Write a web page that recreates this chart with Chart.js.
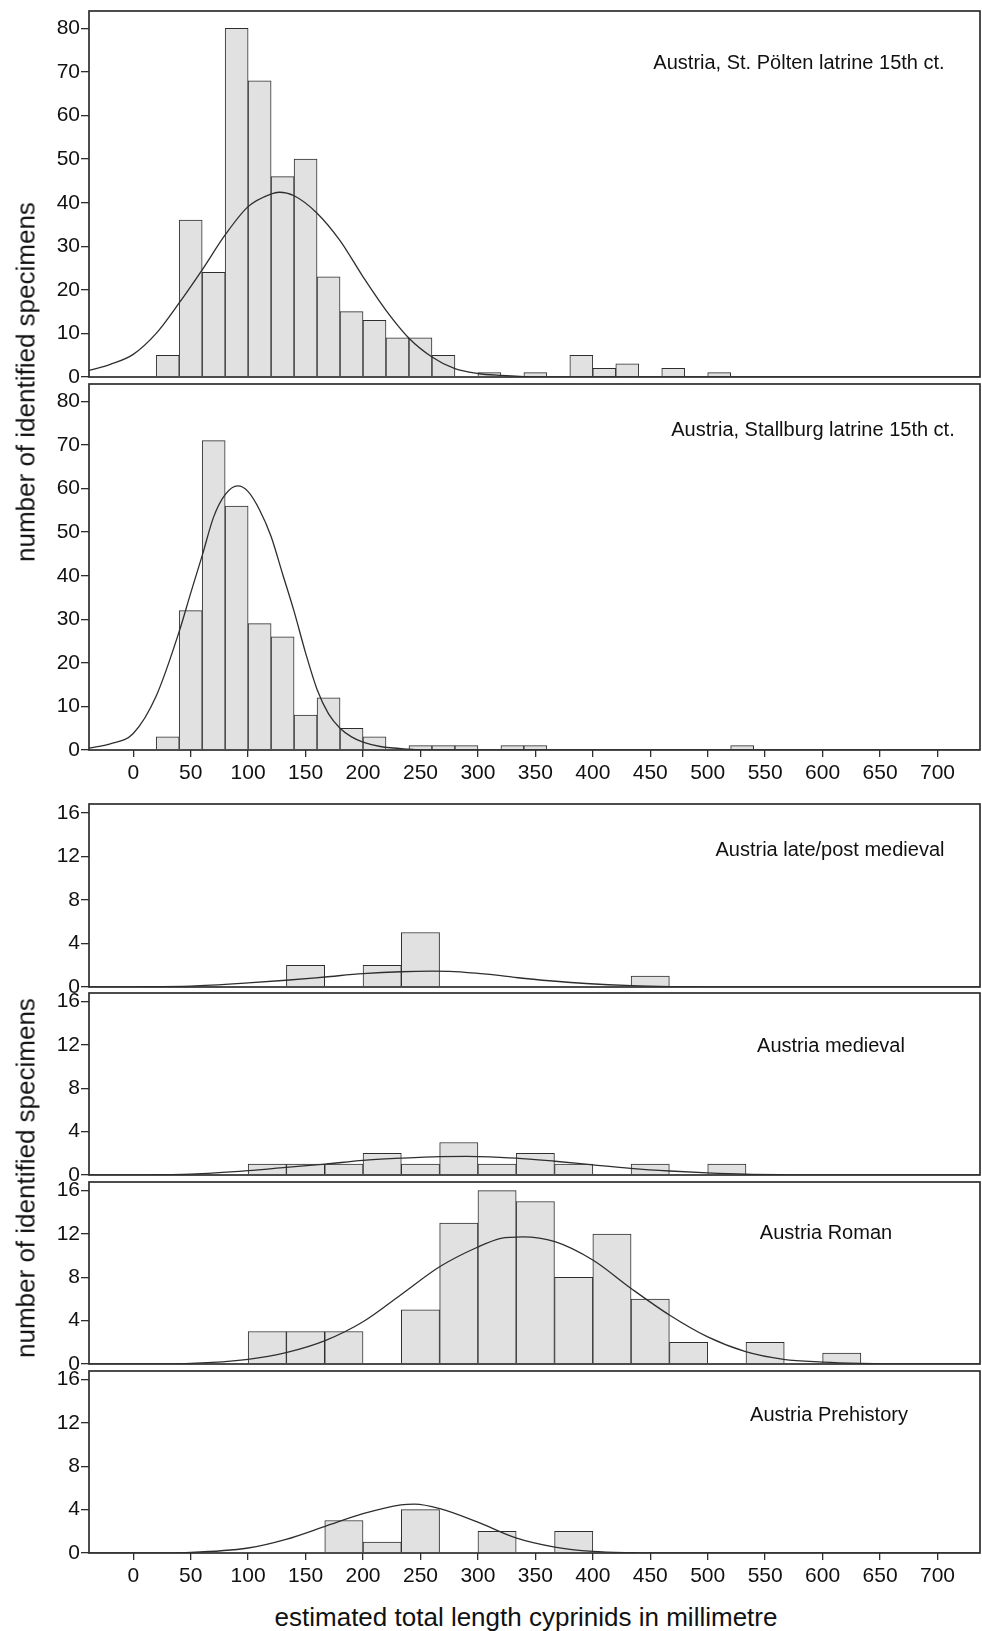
<!DOCTYPE html>
<html>
<head>
<meta charset="utf-8">
<title>Estimated total length of cyprinids</title>
<script src="https://cdn.jsdelivr.net/npm/chart.js@4.4.0/dist/chart.umd.min.js"></script>
<style>
  body { margin: 0; background: #fff; }
  #page { position: relative; width: 982px; height: 1631px; overflow: hidden;
          font-family: 'Liberation Sans', Arial, sans-serif; color: #111; }
  #page canvas { position: absolute; left: 0; }
  .label { position: absolute; white-space: nowrap; font-size: 20px; transform: translate(-50%, -50%); }
  .ytitle { position: absolute; white-space: nowrap; font-size: 26px; transform: translate(-50%, -50%) rotate(-90deg); }
  .xtitle { position: absolute; white-space: nowrap; font-size: 26px; transform: translate(-50%, -50%); }
</style>
</head>
<body>
<div id="page"></div>
<script>
'use strict';

// Data: bars are given by the lower edge of each length class (mm) and its count

// 20 mm classes (latrines)
let stPoltenBins = [20, 40, 60, 80, 100, 120, 140, 160, 180, 200, 220, 240, 260, 300, 340, 380, 400, 420, 460, 500];
let stPoltenCounts = [5, 36, 24, 80, 68, 46, 50, 23, 15, 13, 9, 9, 5, 1, 1, 5, 2, 3, 2, 1];
let stPoltenCurveX = [-38.5, -20, 0, 20, 40, 60, 80, 100, 120, 127, 140, 160, 180, 200, 220, 240, 260, 280, 300, 320, 340, 360, 737];
let stPoltenCurveY = [1.5, 2.9, 5.2, 10.0, 17.0, 24.6, 32.6, 39.1, 42.0, 42.4, 41.6, 37.6, 31.3, 23.0, 15.3, 8.9, 4.6, 1.9, 0.8, 0.35, 0.1, 0, 0];

let stallburgBins = [20, 40, 60, 80, 100, 120, 140, 160, 180, 200, 240, 260, 280, 320, 340, 520];
let stallburgCounts = [3, 32, 71, 56, 29, 26, 8, 12, 5, 3, 1, 1, 1, 1, 1, 1];
let stallburgCurveX = [-38.5, -20, 0, 20, 40, 50, 60, 70, 80, 91, 100, 110, 120, 130, 140, 150, 160, 170, 180, 190, 200, 215, 240, 260, 737];
let stallburgCurveY = [0.45, 1.4, 3.8, 12.4, 27.2, 36, 44.6, 53.5, 58.6, 60.6, 59.3, 55.1, 49, 40.4, 31.8, 22.3, 13.9, 8.3, 5.0, 3.0, 1.8, 0.8, 0.2, 0, 0];

// 33.3 mm classes (periods)
let lateBins = [133.3, 200, 233.3, 433.3];
let lateCounts = [2, 2, 5, 1];
let lateCurveX = [-38.5, 0, 50, 100, 133, 167, 200, 233, 260, 275, 300, 320, 335, 365, 394, 434, 468, 500, 550, 737];
let lateCurveY = [0, 0.02, 0.08, 0.37, 0.62, 0.92, 1.22, 1.4, 1.45, 1.43, 1.25, 1.05, 0.85, 0.55, 0.32, 0.12, 0.04, 0.01, 0, 0];

let medievalBins = [100, 133.3, 166.7, 200, 233.3, 266.7, 300, 333.3, 366.7, 433.3, 500];
let medievalCounts = [1, 1, 1, 2, 1, 3, 1, 2, 1, 1, 1];
let medievalCurveX = [-38.5, 0, 50, 100, 133, 167, 200, 233, 267, 290, 300, 333, 367, 400, 433, 467, 500, 533, 570, 600, 737];
let medievalCurveY = [0, 0.01, 0.08, 0.4, 0.7, 1.0, 1.35, 1.55, 1.7, 1.72, 1.7, 1.56, 1.27, 0.94, 0.62, 0.37, 0.19, 0.07, 0.02, 0, 0];

let romanBins = [100, 133.3, 166.7, 233.3, 266.7, 300, 333.3, 366.7, 400, 433.3, 466.7, 533.3, 600];
let romanCounts = [3, 3, 3, 5, 13, 16, 15, 8, 12, 6, 2, 2, 1];
let romanCurveX = [-38.5, 0, 50, 100, 133, 167, 200, 233, 267, 300, 320, 339, 367, 400, 433, 467, 500, 533, 566, 600, 633, 680, 737];
let romanCurveY = [0, 0, 0.06, 0.43, 1.05, 2.16, 3.9, 6.4, 9.0, 10.8, 11.6, 11.74, 11.3, 9.6, 7.0, 4.5, 2.5, 1.14, 0.43, 0.18, 0.06, 0, 0];

let prehistoryBins = [166.7, 200, 233.3, 300, 366.7];
let prehistoryCounts = [3, 1, 4, 2, 2];
let prehistoryCurveX = [-38.5, 0, 50, 100, 133, 167, 200, 233, 245, 267, 300, 333, 367, 400, 434, 470, 737];
let prehistoryCurveY = [0, 0, 0.06, 0.46, 1.26, 2.46, 3.63, 4.45, 4.52, 4.1, 2.85, 1.4, 0.55, 0.15, 0.03, 0, 0];

let xTickStep = 50;
let xMin = -38.5;
let xMax = 737;

// Panels (layout in page pixels)
let panels = [
  { name: 'Austria, St. Pölten latrine 15th ct.', bins: stPoltenBins, counts: stPoltenCounts, binWidth: 20,
    curveX: stPoltenCurveX, curveY: stPoltenCurveY, yMax: 84, yStep: 10,
    top: 11, bottom: 377, showX: false, labelX: 799, labelY: 62 },
  { name: 'Austria, Stallburg latrine 15th ct.', bins: stallburgBins, counts: stallburgCounts, binWidth: 20,
    curveX: stallburgCurveX, curveY: stallburgCurveY, yMax: 84, yStep: 10,
    top: 384, bottom: 750, showX: true, labelX: 813, labelY: 429 },
  { name: 'Austria late/post medieval', bins: lateBins, counts: lateCounts, binWidth: 100 / 3,
    curveX: lateCurveX, curveY: lateCurveY, yMax: 16.8, yStep: 4,
    top: 804, bottom: 987, showX: false, labelX: 830, labelY: 849 },
  { name: 'Austria medieval', bins: medievalBins, counts: medievalCounts, binWidth: 100 / 3,
    curveX: medievalCurveX, curveY: medievalCurveY, yMax: 16.8, yStep: 4,
    top: 993, bottom: 1175, showX: false, labelX: 831, labelY: 1045 },
  { name: 'Austria Roman', bins: romanBins, counts: romanCounts, binWidth: 100 / 3,
    curveX: romanCurveX, curveY: romanCurveY, yMax: 16.8, yStep: 4,
    top: 1182, bottom: 1364, showX: false, labelX: 826, labelY: 1232 },
  { name: 'Austria Prehistory', bins: prehistoryBins, counts: prehistoryCounts, binWidth: 100 / 3,
    curveX: prehistoryCurveX, curveY: prehistoryCurveY, yMax: 16.8, yStep: 4,
    top: 1371, bottom: 1553, showX: true, labelX: 829, labelY: 1414 }
];

let page = document.getElementById('page');
let lineColor = '#2e2e2e';

Chart.defaults.font.family = "'Liberation Sans', Arial, sans-serif";
Chart.defaults.color = '#111111';

// draws the box round each panel
let framePlugin = {
  id: 'frame',
  afterDraw(chart) {
    let a = chart.chartArea;
    let ctx = chart.ctx;
    ctx.save();
    ctx.strokeStyle = lineColor;
    ctx.lineWidth = 1.7;
    ctx.strokeRect(a.left, a.top, a.right - a.left, a.bottom - a.top);
    ctx.restore();
  }
};

function addText(cls, text, x, y) {
  let div = document.createElement('div');
  div.className = cls;
  div.textContent = text;
  div.style.left = x + 'px';
  div.style.top = y + 'px';
  page.appendChild(div);
}

function renderPanel(p) {
  let pad = 16;
  let axisHeight = p.showX ? 40 : 0;
  let canvas = document.createElement('canvas');
  canvas.width = 982;
  canvas.height = (p.bottom - p.top) + pad + (p.showX ? axisHeight : pad);
  canvas.style.top = (p.top - pad) + 'px';
  page.appendChild(canvas);

  let bars = p.bins.map((b, i) => ({ x: b + p.binWidth / 2, y: p.counts[i] }));
  let curve = p.curveX.map((x, i) => ({ x: x, y: p.curveY[i] }));

  new Chart(canvas, {
    type: 'bar',
    data: {
      datasets: [
        {
          type: 'line',
          data: curve,
          borderColor: lineColor,
          borderWidth: 1.3,
          pointRadius: 0,
          fill: false,
          cubicInterpolationMode: 'monotone'
        },
        {
          type: 'bar',
          data: bars,
          backgroundColor: '#e1e1e1',
          borderColor: lineColor,
          borderWidth: 1,
          barPercentage: 1,
          categoryPercentage: 1
        }
      ]
    },
    options: {
      responsive: false,
      animation: false,
      events: [],
      layout: { padding: { top: pad, bottom: p.showX ? 0 : pad, left: 0, right: 2 } },
      plugins: { legend: { display: false }, tooltip: { enabled: false } },
      scales: {
        x: {
          type: 'linear',
          min: xMin,
          max: xMax,
          offset: false,
          display: p.showX,
          grid: { display: true, drawOnChartArea: false, offset: false, tickLength: 7, color: lineColor, lineWidth: 1.3 },
          border: { display: false },
          ticks: { stepSize: xTickStep, includeBounds: false, padding: 4, font: { size: 21 }, maxRotation: 0, autoSkip: false },
          afterFit: s => { s.height = axisHeight; }
        },
        y: {
          min: 0,
          max: p.yMax,
          grid: { display: true, drawOnChartArea: false, tickLength: 8, color: lineColor, lineWidth: 1.3 },
          border: { display: false },
          ticks: { stepSize: p.yStep, includeBounds: false, padding: 1, font: { size: 21 } },
          afterFit: s => { s.width = 89; }
        }
      }
    },
    plugins: [framePlugin]
  });

  addText('label', p.name, p.labelX, p.labelY);
}

for (let i = 0; i < panels.length; i++) {
  renderPanel(panels[i]);
}

addText('ytitle', 'number of identified specimens', 26, 382);
addText('ytitle', 'number of identified specimens', 26, 1178);
addText('xtitle', 'estimated total length cyprinids in millimetre', 526, 1617);
</script>
</body>
</html>
